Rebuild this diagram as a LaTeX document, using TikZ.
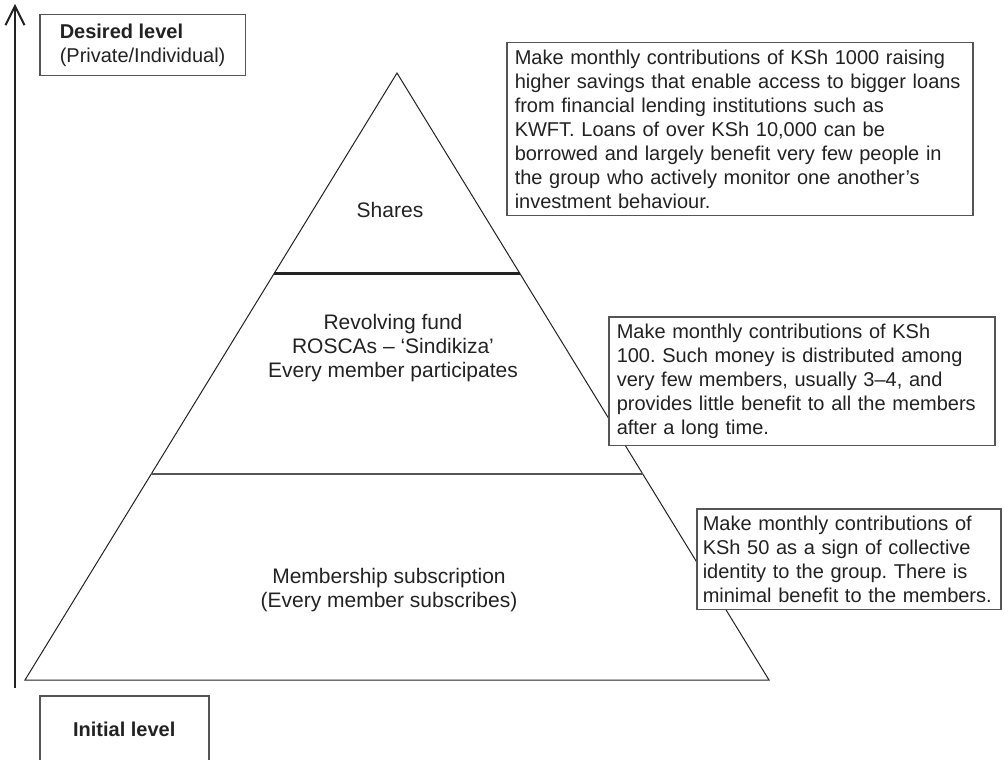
\documentclass[tikz,border=0pt]{standalone}
\usepackage{fontspec}
\setmainfont{Liberation Sans}
\frenchspacing
\usetikzlibrary{arrows.meta, positioning, calc}
\definecolor{cink}{HTML}{222222}
\definecolor{cframe}{HTML}{555555}
\tikzset{
  every picture/.style={font=\fontsize{20}{24}\selectfont, line width=1pt},
  edge/.style={draw=cink, line width=1pt},
  divider/.style={draw=#1, line width=2.6pt},
  divider/.default=cink,
  axis/.style={-{Straight Barb[length=19pt, width=19pt, line width=2pt]}, draw=cink, line width=2pt},
  tier/.style={align=center, text=cink, font=\fontsize{21}{24}\selectfont},
  note/.style={draw=cframe, fill=white, line width=1.5pt, anchor=north west, align=left, text width=#1,
               inner xsep=8pt, inner ysep=7pt, text=cink},
  level/.style={draw=cframe, line width=1.5pt, anchor=north west, text=cink},
}
\begin{document}
\begin{tikzpicture}[x=1pt, y=-1pt]
  \clip (0,0) rectangle (1004,760);
  % vertical axis
  \coordinate (axisBot) at (15,688);
  \coordinate (axisTop) at (15,4);
  \draw[axis] (axisBot) -- (axisTop);
  % pyramid
  \coordinate (apex) at (397,73);
  \coordinate (baseL) at (25,680);
  \coordinate (baseR) at (769,680);
  \draw[edge] (apex) -- (baseL) -- (baseR) -- cycle;
  \coordinate (upL) at ($(apex)!0.3295!(baseL)$);
  \coordinate (upR) at ($(apex)!0.3295!(baseR)$);
  \coordinate (midL) at ($(apex)!0.6606!(baseL)$);
  \coordinate (midR) at ($(apex)!0.6606!(baseR)$);
  \draw[divider, line width=3pt] (upL) -- (upR);
  \draw[divider=cframe, line width=2.2pt] (midL) -- (midR);
  % tiers
  \node[tier] (shares) at (390,210) {Shares};
  \node[tier] (fund) at (393,348) {Revolving fund\\ROSCAs – ‘Sindikiza’\\Every member participates};
  \node[tier] (member) at (389,590) {Membership subscription\\(Every member subscribes)};
  % level labels
  \node[level, align=left, inner xsep=20pt, inner ysep=9pt, minimum width=200pt] (desired) at (39,14)
    {\textbf{Desired level}\\(Private/Individual)};
  \node[level, minimum width=169pt, minimum height=67pt] (initial) at (39,695) {\textbf{Initial level}};
  % notes
  \node[note=450pt] (noteShares) at (506,42)
    {Make monthly contributions of KSh 1000 raising\\higher savings that enable access to bigger loans\\from financial lending institutions such as\\KWFT. Loans of over KSh 10,000 can be\\borrowed and largely benefit very few people in\\the group who actively monitor one another’s\\investment behaviour.};
  \node[note=370pt] (noteFund) at (608,316)
    {Make monthly contributions of KSh\\100. Such money is distributed among\\very few members, usually 3–4, and\\provides little benefit to all the members\\after a long time.};
  \node[note=292pt, inner xsep=6pt] (noteMember) at (696,508)
    {Make monthly contributions of\\KSh 50 as a sign of collective\\identity to the group. There is\\minimal benefit to the members.};
\end{tikzpicture}
\end{document}
